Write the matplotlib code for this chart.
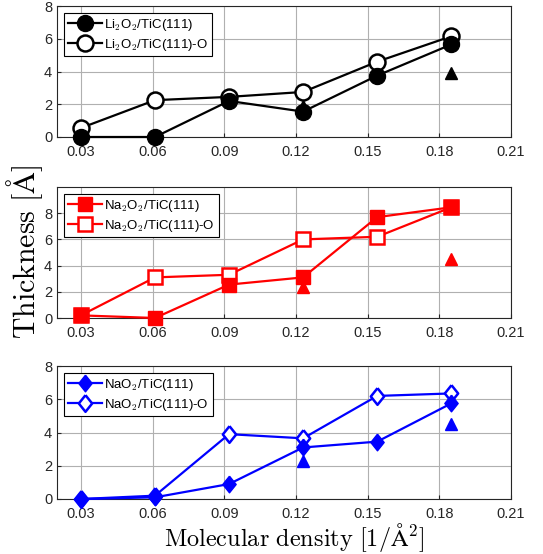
import matplotlib
matplotlib.use('Agg')
import matplotlib.pyplot as plt
import numpy as np

plt.rcParams['mathtext.fontset'] = 'cm'
plt.rcParams['font.family'] = ['Liberation Sans', 'DejaVu Sans']

# 數據
density = [0.03, 0.061, 0.092, 0.123, 0.154, 0.185]
tri_x = [0.123, 0.185]

li_bare = [0.0, 0.0, 2.2, 1.55, 3.75, 5.65]
li_oxy = [0.55, 2.25, 2.45, 2.75, 4.6, 6.15]
li_tri = [1.9, 3.9]

na2_bare = [0.2, 0.0, 2.55, 3.1, 7.7, 8.45]
na2_oxy = [0.2, 3.1, 3.3, 6.0, 6.2, 8.45]
na2_tri = [2.4, 4.5]

nao_bare = [0.0, 0.1, 0.9, 3.1, 3.45, 5.75]
nao_oxy = [0.0, 0.2, 3.9, 3.65, 6.2, 6.35]
nao_tri = [2.3, 4.5]

xticks = [0.03, 0.06, 0.09, 0.12, 0.15, 0.18, 0.21]

# MATLAB 風格菱形 (略窄)
diamond = [(0, 1), (0.8, 0), (0, -1), (-0.8, 0), (0, 1)]

panels = [
    (li_bare, li_oxy, li_tri, 'black', 'o', 11.5, r'Li$_2$O$_2$', 8),
    (na2_bare, na2_oxy, na2_tri, 'red', 's', 10, r'Na$_2$O$_2$', 10),
    (nao_bare, nao_oxy, nao_tri, 'blue', diamond, 12, r'NaO$_2$', 8),
]

W, H = 543, 554
fig = plt.figure(figsize=(W / 100, H / 100), dpi=100)
boxes = [(6, 137), (187, 318), (366, 499)]
left, right = 57, 511

for (bare, oxy, tri, col, mk, ms, name, ytop), (top, bot) in zip(panels, boxes):
    ax = fig.add_axes([left / W, 1 - bot / H, (right - left) / W, (bot - top) / H])
    ax.plot(tri_x, tri, linestyle='none', marker='^', color=col, markersize=9,
            zorder=2, clip_on=False)
    ax.plot(density, bare, '-', color=col, marker=mk, markersize=ms, lw=1.6,
            markerfacecolor=col, label=name + '/TiC(111)', zorder=4, clip_on=False)
    ax.plot(density, oxy, '-', color=col, marker=mk, markersize=ms, lw=1.6,
            markerfacecolor='white', markeredgewidth=1.8, label=name + '/TiC(111)-O',
            zorder=3, clip_on=False)
    ax.set_xlim(0.02, 0.21)
    ax.set_ylim(0, ytop)
    ax.set_xticks(xticks)
    ax.set_xticklabels([f'{t:.2f}' for t in xticks])
    ax.set_yticks([0, 2, 4, 6, 8])
    ax.tick_params(labelsize=10.5, direction='in', length=3, colors='#262626')
    ax.tick_params(axis='x', pad=6)
    ax.grid(True, color='#b0b0b0', lw=0.8)
    ax.set_axisbelow(True)
    for s in ax.spines.values():
        s.set_color('#262626')
        s.set_linewidth(0.8)
    leg = ax.legend(loc='upper left', fontsize=9.5, handlelength=2.6,
                    fancybox=False, framealpha=1, edgecolor='black',
                    borderpad=0.3, labelspacing=0.3, handletextpad=0.2,
                    borderaxespad=0.5)
    leg.get_frame().set_linewidth(0.8)
    leg.set_zorder(10)

fig.text(25 / W, 1 - 252 / H, r'$\mathrm{Thickness\ [\AA]}$', rotation=90,
         ha='center', va='center', fontsize=21.5)
fig.text(294 / W, 1 - 537 / H, r'$\mathrm{Molecular\ density\ [1/\AA^2]}$',
         ha='center', va='center', fontsize=17.5)

plt.savefig('out.png', dpi=100)
plt.close()
